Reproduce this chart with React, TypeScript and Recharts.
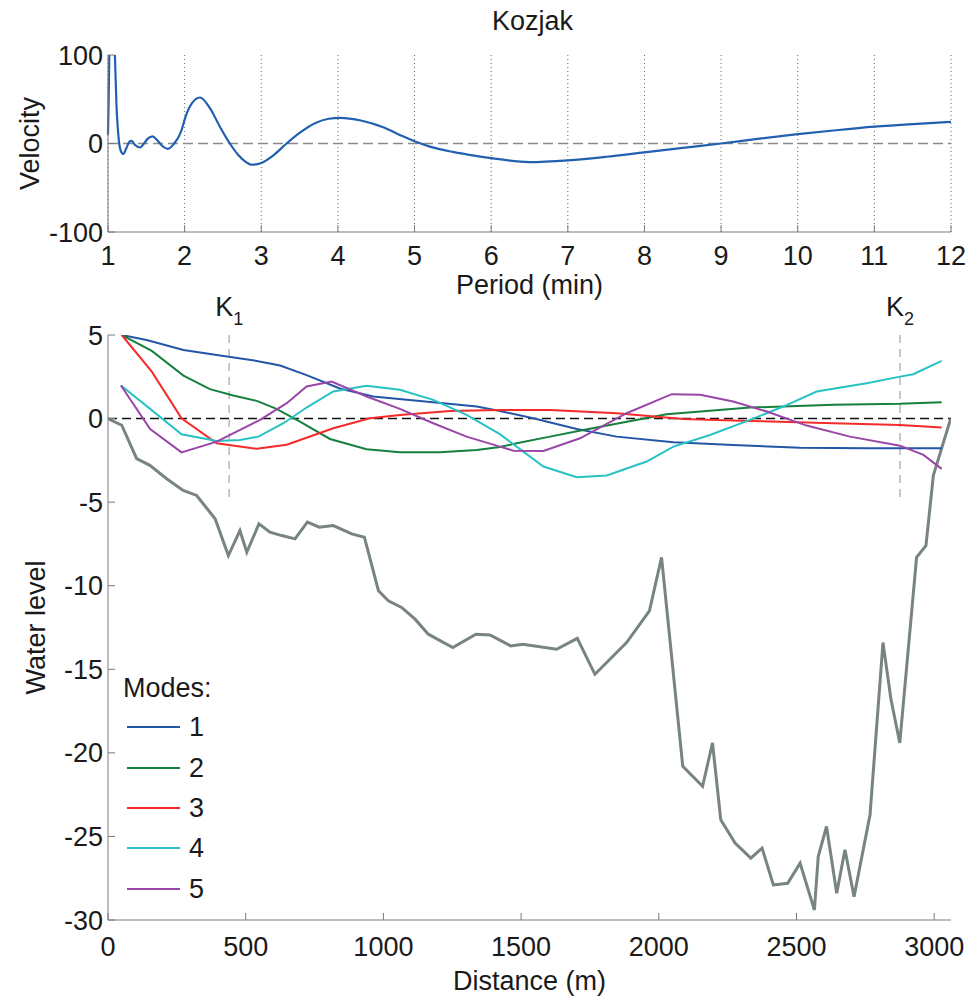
import React from 'react';
import { LineChart, Line, XAxis, YAxis, CartesianGrid, ReferenceLine, ReferenceDot, Legend } from 'recharts';

const FONT = '"Liberation Sans", Arial, Helvetica, sans-serif';
const TXT = '#1a1a1a';
const FRAME = '#7a7a7a';

// ---------- Top panel: velocity vs period ----------
const periodValues = [1.0, 1.008, 1.016, 1.03, 1.05, 1.07, 1.09, 1.11, 1.14, 1.17, 1.2, 1.24, 1.28, 1.31, 1.35, 1.42, 1.47, 1.52, 1.58, 1.64, 1.7, 1.78, 1.86, 1.96, 2.0, 2.07, 2.2, 2.33, 2.46, 2.59, 2.7, 2.8, 2.88, 3.0, 3.15, 3.33, 3.5, 3.7, 3.88, 4.03, 4.3, 4.6, 4.8, 5.0, 5.2, 5.5, 5.8, 6.0, 6.5, 7.0, 7.5, 8.0, 8.5, 9.0, 9.5, 10.0, 10.5, 11.0, 11.5, 12.0];
const velocityValues = [10, 45, 95, 160, 190, 165, 100, 45, 5, -9, -12, -5, 2, 3, -1.5, -4.5, 0, 5.5, 8, 4, -2, -6, -0.4, 15, 27, 42, 52, 40, 19, 0, -13, -21, -24, -22, -14, 0, 12, 23, 28, 29, 26, 18, 10, 2.5, -3.5, -9.5, -14, -16.5, -21, -19, -15, -10, -5, 0, 5.5, 10.5, 15, 19, 22, 24.5];
const periodTicks = [1, 2, 3, 4, 5, 6, 7, 8, 9, 10, 11, 12];
const velocityTicks = [-100, 0, 100];
const titleText = 'Kozjak';
const titleAnchor = { p: 6.5, v: 100 };

// ---------- Bottom panel: water level vs distance ----------
const bathyDist = [0, 50, 104, 152, 213, 273, 322, 389, 437, 479, 504, 548, 588, 631, 679, 724, 767, 818, 885, 931, 982, 1018, 1066, 1115, 1163, 1252, 1336, 1387, 1462, 1506, 1629, 1704, 1768, 1883, 1966, 2010, 2087, 2159, 2195, 2225, 2277, 2334, 2375, 2416, 2468, 2513, 2565, 2579, 2609, 2646, 2676, 2709, 2767, 2814, 2843, 2875, 2936, 2970, 2997, 3060];
const bathyDepth = [0, -0.4, -2.4, -2.8, -3.6, -4.3, -4.6, -6.0, -8.2, -6.7, -8.0, -6.3, -6.8, -7.0, -7.2, -6.2, -6.5, -6.4, -6.9, -7.1, -10.3, -10.9, -11.3, -12.0, -12.9, -13.7, -12.9, -12.95, -13.6, -13.5, -13.8, -13.15, -15.3, -13.4, -11.5, -8.3, -20.8, -22.0, -19.4, -24.0, -25.4, -26.3, -25.7, -27.9, -27.8, -26.6, -29.4, -26.2, -24.4, -28.4, -25.8, -28.6, -23.7, -13.4, -16.8, -19.4, -8.3, -7.6, -3.4, 0];

const mode1Dist = [50, 140, 274, 407, 540, 625, 721, 842, 963, 1085, 1218, 1339, 1423, 1544, 1702, 1847, 2053, 2270, 2513, 2755, 3027];
const mode1Level = [5, 4.7, 4.1, 3.77, 3.45, 3.17, 2.6, 1.8, 1.32, 1.12, 0.92, 0.72, 0.45, 0.02, -0.62, -1.08, -1.42, -1.58, -1.74, -1.78, -1.78];

const mode2Dist = [50, 159, 274, 370, 455, 540, 612, 697, 806, 939, 1060, 1205, 1339, 1423, 1484, 1605, 1726, 2028, 2331, 2634, 2876, 3027];
const mode2Level = [5, 4.05, 2.57, 1.76, 1.38, 1.06, 0.58, -0.18, -1.22, -1.84, -2.02, -2.02, -1.88, -1.7, -1.48, -1.08, -0.68, 0.26, 0.66, 0.82, 0.88, 0.98];

const mode3Dist = [50, 159, 267, 395, 540, 649, 818, 951, 1060, 1242, 1423, 1605, 1847, 2089, 2331, 2634, 2876, 3027];
const mode3Level = [5, 2.81, 0.02, -1.48, -1.81, -1.57, -0.58, 0.02, 0.22, 0.46, 0.52, 0.52, 0.32, -0.02, -0.14, -0.28, -0.38, -0.54];

const mode4Dist = [47, 153, 267, 395, 479, 546, 637, 721, 818, 939, 1060, 1181, 1302, 1423, 1581, 1702, 1811, 1956, 2053, 2186, 2331, 2452, 2573, 2755, 2876, 2924, 3027];
const mode4Level = [1.98, 0.58, -0.94, -1.34, -1.28, -1.08, -0.28, 0.66, 1.62, 1.96, 1.72, 1.12, 0.22, -0.93, -2.87, -3.51, -3.41, -2.57, -1.68, -0.98, -0.08, 0.72, 1.62, 2.11, 2.51, 2.65, 3.45];

const mode5Dist = [47, 153, 267, 395, 552, 649, 721, 812, 939, 1060, 1181, 1302, 1423, 1472, 1581, 1714, 1883, 2047, 2150, 2270, 2392, 2537, 2694, 2876, 2961, 3027];
const mode5Level = [1.98, -0.62, -2.02, -1.38, -0.08, 0.92, 1.92, 2.22, 1.32, 0.58, -0.28, -1.08, -1.68, -1.92, -1.94, -1.18, 0.32, 1.46, 1.42, 1.02, 0.42, -0.42, -1.08, -1.62, -2.17, -3.01];

const modeNames = ['1', '2', '3', '4', '5'];
const modeColors = ['#2356a6', '#16803e', '#f52a2a', '#27c2c4', '#9a46a8'];
const distanceTicks = [0, 500, 1000, 1500, 2000, 2500, 3000];
const levelTicks = [-30, -25, -20, -15, -10, -5, 0, 5];
const kPositions = [440, 2876];
const kSubs = ['1', '2'];
const kRange = [5, -5];

const zip = (xs: number[], ys: number[], kx: string, ky: string) => xs.map((x, i) => ({ [kx]: x, [ky]: ys[i] }));

const velocityData = zip(periodValues, velocityValues, 'p', 'v');
const bathyData = zip(bathyDist, bathyDepth, 'd', 'v');
const modeData = [
  zip(mode1Dist, mode1Level, 'd', 'v'),
  zip(mode2Dist, mode2Level, 'd', 'v'),
  zip(mode3Dist, mode3Level, 'd', 'v'),
  zip(mode4Dist, mode4Level, 'd', 'v'),
  zip(mode5Dist, mode5Level, 'd', 'v'),
];

const tickStyle = { fill: TXT, fontSize: 27, fontFamily: FONT };

const rotatedLabel = (text: string, cx: number) => (props: any) => {
  const vb = props.viewBox || { y: 0, height: 0 };
  const cy = vb.y + vb.height / 2;
  return (
    <text x={cx} y={cy} transform={`rotate(-90 ${cx} ${cy})`} textAnchor="middle" dominantBaseline="central" fontSize={27} fontFamily={FONT} fill={TXT}>
      {text}
    </text>
  );
};

const kLabel = (sub: string) => (props: any) => {
  const vb = props.viewBox;
  if (!vb) return null;
  return (
    <text x={vb.x - 14} y={vb.y - 19} fontSize={27} fontFamily={FONT} fill={TXT}>
      K<tspan fontSize={18} dy={9}>{sub}</tspan>
    </text>
  );
};

const titleLabel = (props: any) => {
  const vb = props.viewBox;
  if (!vb) return null;
  return (
    <text x={vb.x + 3} y={vb.y - 25} textAnchor="middle" fontSize={27} fontFamily={FONT} fill={TXT}>
      {titleText}
    </text>
  );
};

const renderLegend = (props: any) => {
  const payload = (props.payload || []).filter((e: any) => e.type !== 'none');
  return (
    <div style={{ fontFamily: FONT, fontSize: 27, color: TXT }}>
      <div style={{ height: 33, lineHeight: '28px' }}>Modes:</div>
      {payload.map((e: any) => (
        <div key={e.value} style={{ display: 'flex', alignItems: 'center', height: 40.4, paddingLeft: 4 }}>
          <span style={{ display: 'inline-block', width: 53, height: 0, borderTop: `2px solid ${e.color}` }} />
          <span style={{ marginLeft: 9, lineHeight: '28px' }}>{e.value}</span>
        </div>
      ))}
    </div>
  );
};

export default function App() {
  return (
    <div style={{ position: 'relative', width: 958, height: 999, marginTop: -8, fontFamily: FONT }}>
      <div style={{ position: 'absolute', left: 0, top: 0 }}>
        <LineChart width={958} height={999} margin={{ top: 335, right: 15, bottom: 34, left: 0 }}>
          <XAxis
            dataKey="d"
            type="number"
            domain={[0, 3061]}
            ticks={distanceTicks}
            height={45}
            tickSize={-7}
            tickMargin={24}
            stroke={FRAME}
            tick={tickStyle}
            interval={0}
            allowDataOverflow
            label={{ value: 'Distance (m)', position: 'bottom', offset: 6, fill: TXT, fontSize: 27, fontFamily: FONT }}
          />
          <XAxis xAxisId="top" orientation="top" dataKey="d" type="number" domain={[0, 3061]} ticks={distanceTicks} height={0} tick={false} tickSize={-7} stroke={FRAME} allowDataOverflow />
          <YAxis
            type="number"
            domain={[-30, 5]}
            ticks={levelTicks}
            allowDataOverflow
            width={100}
            tickSize={-7}
            tickMargin={12}
            stroke={FRAME}
            tick={tickStyle}
            interval={0}
            label={{ content: rotatedLabel('Water level', 28) }}
          />
          <YAxis yAxisId="right" orientation="right" type="number" domain={[-30, 5]} ticks={levelTicks} width={0} tick={false} tickSize={-7} stroke={FRAME} allowDataOverflow />
          <ReferenceLine y={0} stroke="#111" strokeWidth={1.6} strokeDasharray="9 5" />
          {kPositions.map((k, i) => (
            <ReferenceLine key={'kl' + i} segment={[{ x: k, y: kRange[0] }, { x: k, y: kRange[1] }]} stroke="#b8b8b8" strokeWidth={1.5} strokeDasharray="8 6" />
          ))}
          {kPositions.map((k, i) => (
            <ReferenceDot key={'kd' + i} x={k} y={kRange[0]} r={0} stroke="none" fill="none" label={{ content: kLabel(kSubs[i]) }} />
          ))}
          <Line data={bathyData} dataKey="v" name="bathymetry" legendType="none" type="linear" stroke="#788383" strokeWidth={3} dot={false} activeDot={false} isAnimationActive={false} />
          {modeData.map((md, i) => (
            <Line key={i} data={md} dataKey="v" name={modeNames[i]} type="linear" stroke={modeColors[i]} strokeWidth={2} dot={false} activeDot={false} isAnimationActive={false} />
          ))}
          <Legend
            layout="vertical"
            align="center"
            verticalAlign="middle"
            content={renderLegend}
            wrapperStyle={{ left: 115, top: 674, width: 'auto' }}
          />
        </LineChart>
      </div>

      <div style={{ position: 'absolute', left: 0, top: 0 }}>
        <LineChart width={958} height={308} data={velocityData} margin={{ top: 55, right: 15, bottom: 36, left: 0 }}>
          <CartesianGrid horizontal={false} vertical stroke="#666" strokeDasharray="1 3" />
          <XAxis
            dataKey="p"
            type="number"
            domain={[1, 12]}
            ticks={periodTicks}
            height={40}
            tickSize={-7}
            tickMargin={21}
            stroke={FRAME}
            tick={tickStyle}
            interval={0}
            label={{ value: 'Period (min)', position: 'bottom', offset: 3, fill: TXT, fontSize: 27, fontFamily: FONT }}
          />
          <XAxis xAxisId="top" orientation="top" dataKey="p" type="number" domain={[1, 12]} ticks={periodTicks} height={0} tick={false} tickSize={-7} stroke={FRAME} />
          <YAxis
            type="number"
            domain={[-100, 100]}
            ticks={velocityTicks}
            allowDataOverflow
            width={100}
            tickSize={-7}
            tickMargin={12}
            stroke={FRAME}
            tick={tickStyle}
            interval={0}
            label={{ content: rotatedLabel('Velocity', 22) }}
          />
          <YAxis yAxisId="right" orientation="right" type="number" domain={[-100, 100]} ticks={velocityTicks} width={0} tick={false} tickSize={-7} stroke={FRAME} />
          <ReferenceLine y={0} stroke="#8a8a8a" strokeWidth={1.5} strokeDasharray="10 5" />
          <ReferenceDot x={titleAnchor.p} y={titleAnchor.v} r={0} stroke="none" fill="none" label={{ content: titleLabel }} />
          <Line dataKey="v" type="monotone" stroke="#2160b0" strokeWidth={2.2} dot={false} activeDot={false} isAnimationActive={false} />
        </LineChart>
      </div>
    </div>
  );
}
